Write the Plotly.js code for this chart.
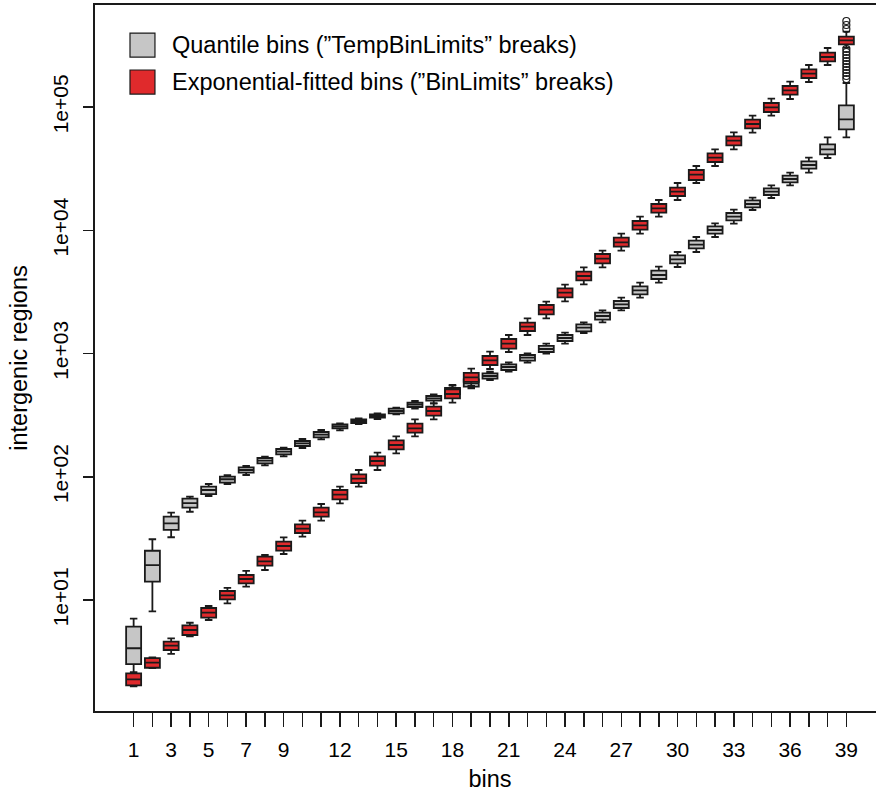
<!DOCTYPE html>
<html>
<head>
<meta charset="utf-8">
<script src="https://cdn.plot.ly/plotly-3.0.1.min.js"></script>
<style>
html,body{margin:0;padding:0;overflow:hidden;background:#fff;}
#chart{width:890px;height:794px;}
</style>
</head>
<body>
<div id="chart"></div>
<script>
// bins 1..39
const bins = [1,2,3,4,5,6,7,8,9,10,11,12,13,14,15,16,17,18,19,20,21,22,23,24,25,26,27,28,29,30,31,32,33,34,35,36,37,38,39];
const tickLabels = ["1","","3","","5","","7","","9","","","12","","","15","","","18","","","21","","","24","","","27","","","30","","","33","","","36","","","39"];

// Quantile bins ("TempBinLimits" breaks) - gray
const grayLow = [2.12,8.1,32.3,52.0,69.8,87.3,103.3,123.8,146.5,171.1,201.3,238.2,267.9,294.2,321.1,356.6,394.5,443.7,522,609.5,711.7,842.1,996.3,1201,1467,1791,2242,2836,3752,5032,6663,8815,11303,14601,18268,23163,29308,38564,56780];
const grayQ1 = [3.02,14.1,37.0,56.1,72.4,89.5,107.9,128.5,152.1,177.7,209.0,247.3,273.0,301.4,327.2,368.1,414.0,469.3,537.8,624.5,734.7,874.3,1028,1263,1514,1880,2340,3022,4023,5393,7137,9376,12042,15356,19320,24491,31580,41331,65940];
const grayMed = [4.06,19.2,41.9,61.2,78.1,95.4,113.4,135.0,159.7,186.8,219.4,256.7,283.4,311.1,341.6,384.3,433.1,496.3,573.1,656.9,777.1,924.5,1088,1336,1620,2015,2507,3257,4335,5813,7636,10046,12882,16331,20554,26049,33838,45380,79490];
const grayQ3 = [6.07,25.1,47.4,66.4,83.1,100.1,119.3,141.9,168.0,195.0,230.7,266.5,292.5,321.1,356.6,398.9,452.1,525.0,617.6,690.8,817.3,972.3,1151,1413,1726,2143,2667,3510,4696,6264,8227,10765,13804,17498,21896,27713,36257,49825,103200];
const grayHigh = [7.05,31.1,51.1,68.9,87.3,102.8,122.2,145.4,172.2,202.4,239.4,271.5,298.0,327.2,363.3,411.8,466.7,555.1,656.9,711.7,848.4,1004,1201,1475,1791,2242,2836,3752,5061,6663,8815,11387,14682,18368,23163,29308,38777,56776,156600];
// outliers of the gray series in bin 39
const grayOutBin = [39,39,39,39,39,39,39,39,39,39,39,39,39,39];
const grayOutVal = [498700,462800,429500,295500,279400,264200,249800,236200,223300,211100,199600,188700,178400,168700];

// Exponential-fitted bins ("BinLimits" breaks) - red
const redLow = [1.99,2.80,3.65,5.06,6.88,9.40,12.82,17.51,23.62,32.63,44.00,60.89,83.06,113.4,155.0,212.9,292.5,398.9,545.0,748.6,1028,1413,1930,2652,3643,5005,6826,9376,12882,17595,24180,33214,45380,61870,85020,116150,159500,219200,302900];
const redQ1 = [2.03,2.82,3.93,5.20,7.19,10.13,13.66,18.98,25.12,34.96,47.41,65.62,88.98,122.9,167.0,227.8,312.9,433.1,589.4,806.6,1094,1522,2080,2858,3926,5393,7355,10104,13880,18966,25565,35794,48900,67200,91080,125850,171950,234900,322800];
const redMed = [2.27,3.10,4.26,5.71,7.89,10.92,14.80,20.61,27.42,37.88,51.46,71.52,96.43,134.2,180.9,247.3,341.6,469.3,641.0,880.6,1201,1650,2267,3114,4255,5877,7985,10970,15072,20554,28228,38777,53300,72790,99450,136600,186300,254500,347800];
const redQ3 = [2.54,3.38,4.59,6.23,8.61,11.83,15.95,22.45,29.72,41.14,56.09,78.08,104.7,146.5,197.6,269.4,370.2,512.3,697.2,954.3,1311,1778,2475,3381,4609,6418,8700,11885,16331,22140,30823,42100,57850,78880,107800,148100,202300,275800,372100];
const redHigh = [2.60,3.42,4.89,6.54,8.94,12.52,17.20,23.18,32.27,44.00,60.10,83.06,113.4,156.7,212.9,292.5,394.5,547.9,753.0,1034,1413,1930,2633,3615,5005,6826,9376,12882,17595,24180,33214,45380,62330,85020,116800,160400,219200,301100,408400];

const seriesNames = ["Quantile bins (\u201DTempBinLimits\u201D breaks)", "Exponential-fitted bins (\u201DBinLimits\u201D breaks)"];
const yTickVals = [10,100,1000,10000,100000];
const yTickText = ["1e+01","1e+02","1e+03","1e+04","1e+05"];

const FONT = "Liberation Sans, Arial, Helvetica, sans-serif";
const grayFill = "#C6C6C6";
const redFill = "#E02A2C";
const edge = "#1a1a1a";

const traces = [
  {
    type: "box", name: seriesNames[0], x: bins,
    q1: grayQ1, median: grayMed, q3: grayQ3, lowerfence: grayLow, upperfence: grayHigh,
    boxpoints: false, width: 0.8, whiskerwidth: 0.5,
    fillcolor: grayFill, line: {color: edge, width: 1.8},
    showlegend: false, hoverinfo: "skip"
  },
  {
    type: "scatter", mode: "markers", x: grayOutBin, y: grayOutVal,
    marker: {symbol: "circle-open", size: 7, color: edge, line: {width: 1.2, color: edge}},
    showlegend: false, hoverinfo: "skip"
  },
  {
    type: "box", name: seriesNames[1], x: bins,
    q1: redQ1, median: redMed, q3: redQ3, lowerfence: redLow, upperfence: redHigh,
    boxpoints: false, width: 0.8, whiskerwidth: 0.5,
    fillcolor: redFill, line: {color: edge, width: 1.8},
    showlegend: false, hoverinfo: "skip"
  }
];

const layout = {
  width: 890, height: 794,
  margin: {l: 95, r: 5, t: 5, b: 83},
  paper_bgcolor: "#fff", plot_bgcolor: "#fff",
  font: {family: FONT, color: "#000", size: 21},
  boxmode: "overlay",
  showlegend: false,
  xaxis: {
    type: "linear", range: [-1.06, 41.06],
    tickmode: "array", tickvals: bins, ticktext: tickLabels,
    ticks: "outside", ticklen: 14, tickwidth: 1.5, tickcolor: edge,
    ticklabelstandoff: 5,
    showline: true, mirror: true, linecolor: edge, linewidth: 1.8,
    showgrid: false, zeroline: false,
    tickfont: {family: FONT, size: 21, color: "#000"},
    title: {text: "bins", font: {family: FONT, size: 23.5, color: "#000"}, standoff: 10}
  },
  yaxis: {
    type: "log", range: [0.0994, 5.8276],
    tickmode: "array", tickvals: yTickVals, ticktext: yTickText,
    ticks: "outside", ticklen: 10, tickwidth: 1.5, tickcolor: edge,
    tickangle: -90, ticklabelstandoff: 7,
    showline: true, mirror: true, linecolor: edge, linewidth: 1.8,
    showgrid: false, zeroline: false,
    tickfont: {family: FONT, size: 21, color: "#000"},
    title: {text: "intergenic regions", font: {family: FONT, size: 23.5, color: "#000"}, standoff: 14}
  },
  shapes: [
    {type: "rect", xref: "paper", yref: "paper", x0: 0.0443, x1: 0.0759, y0: 0.9263, y1: 0.9603,
     fillcolor: grayFill, line: {color: edge, width: 1.2}},
    {type: "rect", xref: "paper", yref: "paper", x0: 0.0443, x1: 0.0759, y0: 0.8739, y1: 0.9079,
     fillcolor: redFill, line: {color: edge, width: 1.2}}
  ],
  annotations: [
    {xref: "paper", yref: "paper", x: 0.0949, y: 0.9433, xanchor: "left", yanchor: "middle",
     text: seriesNames[0], showarrow: false, font: {family: FONT, size: 23.5, color: "#000"}},
    {xref: "paper", yref: "paper", x: 0.0949, y: 0.8909, xanchor: "left", yanchor: "middle",
     text: seriesNames[1], showarrow: false, font: {family: FONT, size: 23.5, color: "#000"}}
  ]
};

Plotly.newPlot("chart", traces, layout, {displayModeBar: false, staticPlot: true});
</script>
</body>
</html>
